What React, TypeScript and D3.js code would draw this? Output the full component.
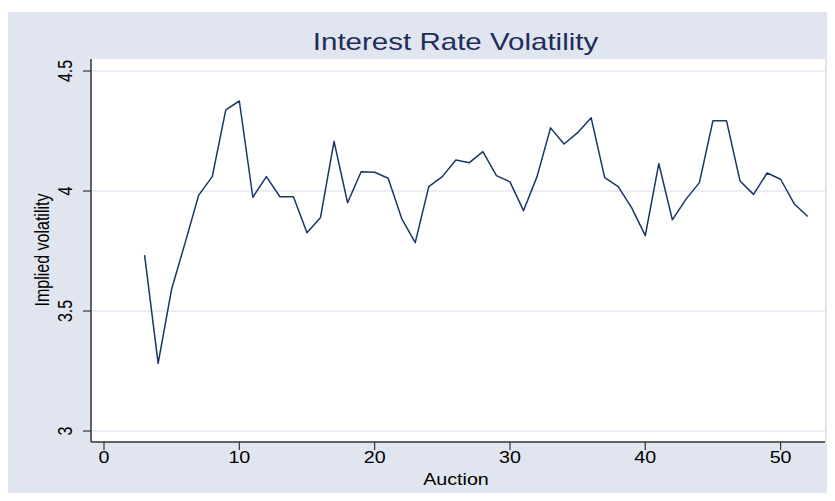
import * as d3 from "d3"
import { useRef, useEffect } from "react"

const auctions = [3,4,5,6,7,8,9,10,11,12,13,14,15,16,17,18,19,20,21,22,23,24,25,26,27,28,29,30,31,32,33,34,35,36,37,38,39,40,41,42,43,44,45,46,47,48,49,50,51,52]
const volatility = [3.733,3.282,3.592,3.785,3.983,4.06,4.338,4.375,3.974,4.06,3.976,3.976,3.826,3.89,4.207,3.951,4.08,4.078,4.053,3.885,3.785,4.018,4.06,4.129,4.118,4.164,4.064,4.038,3.918,4.06,4.263,4.196,4.243,4.305,4.056,4.018,3.93,3.814,4.114,3.88,3.965,4.035,4.293,4.293,4.042,3.986,4.075,4.049,3.947,3.894]
const xTicks = [0,10,20,30,40,50]
const yTicks = [3,3.5,4,4.5]

export default function App(){
    const ref = useRef<SVGSVGElement>(null)

    useEffect(()=>{
        const width = 835
        const height = 501
        const plotLeft = 91
        const plotRight = 825
        const plotTop = 59
        const plotBottom = 442
        const sx = 1.23 // text looks stretched sideways

        const svg = d3.select(ref.current)
        svg.selectAll("*").remove()
        svg.attr("width",width).attr("height",height)
           .style("font-family","'Liberation Sans', Arial, sans-serif")

        // graph region
        svg.append("rect").attr("x",8).attr("y",12).attr("width",width-8).attr("height",height-12).attr("fill","#e0e5ef")
        // plot region
        svg.append("rect").attr("x",plotLeft).attr("y",plotTop).attr("width",plotRight-plotLeft).attr("height",plotBottom-plotTop).attr("fill","#ffffff")

        const x = d3.scaleLinear().domain([0,50]).range([104,780.6])
        const y = d3.scaleLinear().domain([3,4.5]).range([431,71])

        // grid
        svg.append("g").selectAll("line").data(yTicks).join("line")
           .attr("x1",plotLeft).attr("x2",plotRight)
           .attr("y1",d=>y(d)).attr("y2",d=>y(d))
           .attr("stroke","#e3e7ef").attr("stroke-width",1.5)

        const data = auctions.map((a,i)=>({a,v:volatility[i]}))
        const line = d3.line<{a:number,v:number}>().x(d=>x(d.a)).y(d=>y(d.v))
        svg.append("path").datum(data).attr("d",line)
           .attr("fill","none").attr("stroke","#1a3668").attr("stroke-width",1.5).attr("stroke-linejoin","round")

        // y axis
        const ya = svg.append("g").attr("transform",`translate(${plotLeft},0)`)
        ya.append("line").attr("x1",0).attr("x2",0).attr("y1",plotTop).attr("y2",plotBottom).attr("stroke","#333").attr("stroke-width",1.5)
        const yt = ya.selectAll("g.t").data(yTicks).join("g").attr("class","t").attr("transform",d=>`translate(0,${y(d)})`)
        yt.append("line").attr("x1",-8).attr("x2",0).attr("stroke","#333").attr("stroke-width",1.2)
        yt.append("text").attr("transform",`translate(-19,0) scale(${sx},1) rotate(-90)`).attr("text-anchor","middle")
          .attr("font-size",16).attr("fill","#000").text(d=>d3.format("")(d))

        // x axis
        const xa = svg.append("g").attr("transform",`translate(0,${plotBottom})`)
        xa.append("line").attr("x1",plotLeft).attr("x2",plotRight).attr("stroke","#333").attr("stroke-width",1.5)
        const xt = xa.selectAll("g.t").data(xTicks).join("g").attr("class","t").attr("transform",d=>`translate(${x(d)},0)`)
        xt.append("line").attr("y1",0).attr("y2",8).attr("stroke","#333").attr("stroke-width",1.2)
        xt.append("text").attr("transform",`translate(0,21) scale(${sx},1)`).attr("text-anchor","middle")
          .attr("font-size",16).attr("fill","#000").text(d=>d)

        svg.append("text").attr("transform",`translate(456,485) scale(${sx},1)`).attr("text-anchor","middle")
           .attr("font-size",16).attr("fill","#000").text("Auction")
        svg.append("text").attr("transform",`translate(49,250) scale(${sx},1) rotate(-90)`).attr("text-anchor","middle")
           .attr("font-size",16).attr("fill","#000").text("Implied volatility")
        svg.append("text").attr("transform",`translate(455.5,50) scale(${sx},1)`).attr("text-anchor","middle")
           .attr("font-size",24).attr("fill","#1e2d5a").text("Interest Rate Volatility")
    },[])

    return(
        <div style={{margin:"-8px"}}>
            <svg ref={ref} style={{display:"block"}}></svg>
        </div>
    )
}
